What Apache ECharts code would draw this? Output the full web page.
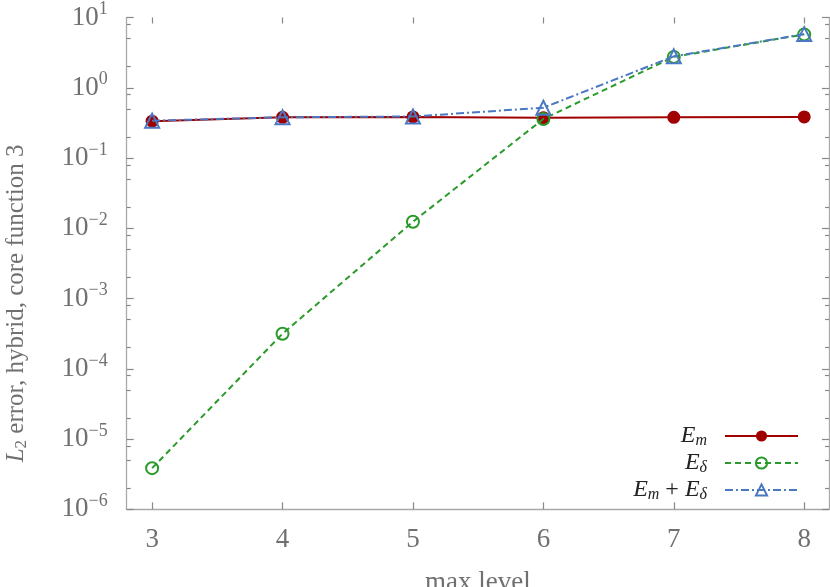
<!DOCTYPE html>
<html>
<head>
<meta charset="utf-8">
<script src="https://cdn.jsdelivr.net/npm/echarts@6/dist/echarts.min.js"></script>
<style>
html, body { margin: 0; padding: 0; background: #fff; }
#chart { width: 830px; height: 587px; }
</style>
</head>
<body>
<div id="chart"></div>
<script>
// values
var levels = [3, 4, 5, 6, 7, 8];
var errM = [0.335, 0.38, 0.385, 0.375, 0.38, 0.385];
var errDelta = [3.85e-6, 3.16e-4, 0.0124, 0.36, 2.75, 5.75];
var errSum = [0.34, 0.38, 0.39, 0.52, 2.8, 5.8];
var xTicks = [3, 4, 5, 6, 7, 8];
var yTicks = [1e-6, 1e-5, 1e-4, 1e-3, 1e-2, 1e-1, 1, 10];
var yMinor = [];
for (var e = -6; e < 1; e++) {
    [2, 5, 8].forEach(function (m) { yMinor.push(m * Math.pow(10, e)); });
}

var serif = 'Liberation Serif';
var gray = '#707070';
var axisGray = '#a8a8a8';
var red = '#a00000';
var green = '#2a9a2a';
var blue = '#4a78c2';

function pairs (ys) {
    return levels.map(function (x, i) { return [x, ys[i]]; });
}

function expLabel (v) {
    var p = Math.round(Math.log(v) / Math.LN10);
    return '{b|10}{s|' + String(p).replace('-', '\u2212') + '}';
}

var labelRich = {
    b: { fontFamily: serif, fontSize: 27, color: gray },
    s: { fontFamily: serif, fontSize: 18, color: gray, padding: [0, 0, 16, 0] }
};

function yAxisBase (pos, minor) {
    return {
        type: 'log',
        logBase: 10,
        min: 1e-6,
        max: 10,
        position: pos,
        axisLine: { show: !minor, lineStyle: { color: axisGray, width: 1.3 } },
        axisTick: {
            inside: true,
            length: minor ? 4 : 7,
            customValues: minor ? yMinor : yTicks,
            lineStyle: { color: '#888', width: 1.2 }
        },
        axisLabel: { show: false },
        splitLine: { show: false },
        minorTick: { show: false }
    };
}

var yLeft = yAxisBase('left', false);
yLeft.axisLabel = {
    show: true,
    margin: 19,
    customValues: yTicks,
    formatter: expLabel,
    rich: labelRich
};
yLeft.name = '{i|L}{sub|2}{n| error, hybrid, core function 3}';
yLeft.nameLocation = 'middle';
yLeft.nameGap = 97;
yLeft.nameTextStyle = {
    padding: [0, 80, 0, 0],
    rich: {
        i: { fontFamily: serif, fontStyle: 'italic', fontSize: 25, color: gray },
        sub: { fontFamily: serif, fontSize: 17, color: gray, padding: [10, 0, 0, 0] },
        n: { fontFamily: serif, fontSize: 25, color: gray }
    }
};

var legendRich = {
    i: { fontFamily: serif, fontStyle: 'italic', fontSize: 24, color: '#222' },
    sub: { fontFamily: serif, fontStyle: 'italic', fontSize: 16, color: '#222', padding: [10, 0, 0, 0] },
    n: { fontFamily: serif, fontSize: 24, color: '#222' },
    g: { width: 13 }
};
var legendText = {
    'Em': '{i|E}{sub|m}{g|}',
    'Ed': '{i|E}{sub|\u03b4}{g|}',
    'Es': '{i|E}{sub|m}{n| + }{i|E}{sub|\u03b4}{g|}'
};

var chart = echarts.init(document.getElementById('chart'), null, { renderer: 'canvas' });
chart.setOption({
    animation: false,
    backgroundColor: '#fff',
    grid: { left: 126.7, right: 1, top: 17.5, bottom: 77.7, containLabel: false, outerBoundsMode: 'none' },
    legend: {
        orient: 'vertical',
        right: 26,
        top: 419,
        align: 'right',
        itemWidth: 73,
        itemHeight: 14,
        itemGap: 2,
        data: ['Em', 'Ed', 'Es'],
        formatter: function (name) { return legendText[name]; },
        textStyle: { rich: legendRich, lineHeight: 20 }
    },
    xAxis: [{
        type: 'value',
        min: 2.805,
        max: 8.19,
        position: 'bottom',
        name: 'max level',
        nameLocation: 'middle',
        nameGap: 60,
        nameTextStyle: { fontFamily: serif, fontSize: 27, color: gray },
        axisLine: { lineStyle: { color: axisGray, width: 1.3 } },
        axisTick: { inside: true, length: 7, customValues: xTicks, lineStyle: { color: '#888', width: 1.2 } },
        axisLabel: { margin: 17, customValues: xTicks, fontFamily: serif, fontSize: 27, color: gray },
        splitLine: { show: false }
    }, {
        type: 'value',
        min: 2.805,
        max: 8.19,
        position: 'top',
        axisLine: { show: false },
        axisTick: { inside: true, length: 6, customValues: xTicks, lineStyle: { color: '#888', width: 1.2 } },
        axisLabel: { show: false },
        splitLine: { show: false }
    }],
    yAxis: [yLeft, yAxisBase('left', true), yAxisBase('right', false), yAxisBase('right', true)],
    series: [{
        name: 'Em',
        type: 'line',
        data: pairs(errM),
        symbol: 'circle',
        symbolSize: 13,
        itemStyle: { color: red },
        lineStyle: { color: red, width: 2 },
        z: 2
    }, {
        name: 'Ed',
        type: 'line',
        data: pairs(errDelta),
        symbol: 'circle',
        symbolSize: 12,
        itemStyle: { color: 'rgba(0,0,0,0)', borderColor: green, borderWidth: 2 },
        lineStyle: { color: green, width: 2, type: [6, 4] },
        z: 3
    }, {
        name: 'Es',
        type: 'line',
        data: pairs(errSum),
        symbol: 'triangle',
        symbolSize: 14,
        itemStyle: { color: 'rgba(0,0,0,0)', borderColor: blue, borderWidth: 2 },
        lineStyle: { color: blue, width: 2, type: [8, 3, 2, 3] },
        z: 4
    }]
});
</script>
</body>
</html>
